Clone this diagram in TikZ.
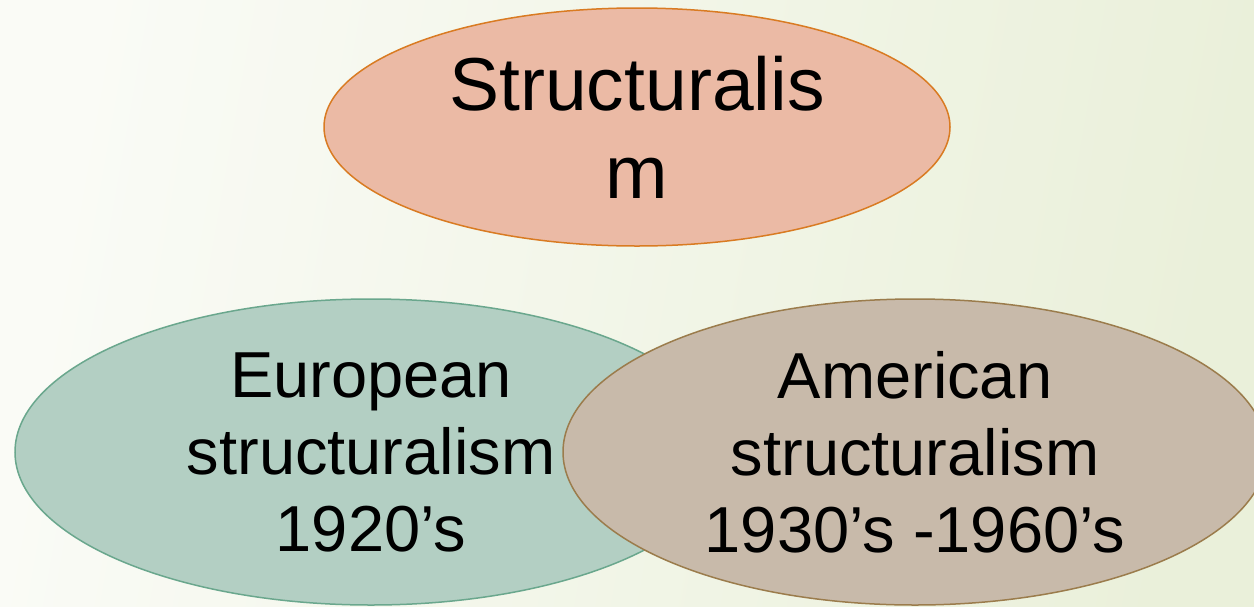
\documentclass[tikz,border=0pt]{standalone}
\usepackage{fontspec}
\setmainfont{Liberation Sans}
\usetikzlibrary{shapes.geometric}
\definecolor{bgwhite}{HTML}{FAFBF6}
\definecolor{bggreen}{HTML}{EAF0DA}
\definecolor{topfill}{HTML}{EBBAA5}
\definecolor{topline}{HTML}{D97B22}
\definecolor{eurofill}{HTML}{B3CFC3}
\definecolor{euroline}{HTML}{6AA78D}
\definecolor{amerfill}{HTML}{C8BAAA}
\definecolor{amerline}{HTML}{9B7C4C}

\begin{document}
\begin{tikzpicture}[x=1pt,y=-1pt,
  bubble/.style={ellipse,line width=1.5pt,inner sep=0pt,align=center,text=black},
  bigtext/.style={font=\fontsize{75}{88}\selectfont},
  smalltext/.style={font=\fontsize{65}{77}\selectfont}]
% Background
\useasboundingbox (0,0) rectangle (1254,606);
\clip (0,0) rectangle (1254,606);
\shade[left color=bgwhite,right color=bggreen,shading angle=80] (0,0) rectangle (1254,606);
% Top bubble
\node[bubble,bigtext,fill=topfill,draw=topline,minimum width=626pt,minimum height=238pt]
  (struct) at (637,127) {Structuralis\\m};
% Bottom bubbles
\node[bubble,smalltext,fill=eurofill,draw=euroline,minimum width=712pt,minimum height=306pt]
  (europe) at (371,452) {European\\structuralism\\1920’s};
\node[bubble,smalltext,fill=amerfill,draw=amerline,minimum width=704pt,minimum height=306pt]
  (america) at (915,452) {American\\structuralism\\1930’s -1960’s};
\end{tikzpicture}
\end{document}
